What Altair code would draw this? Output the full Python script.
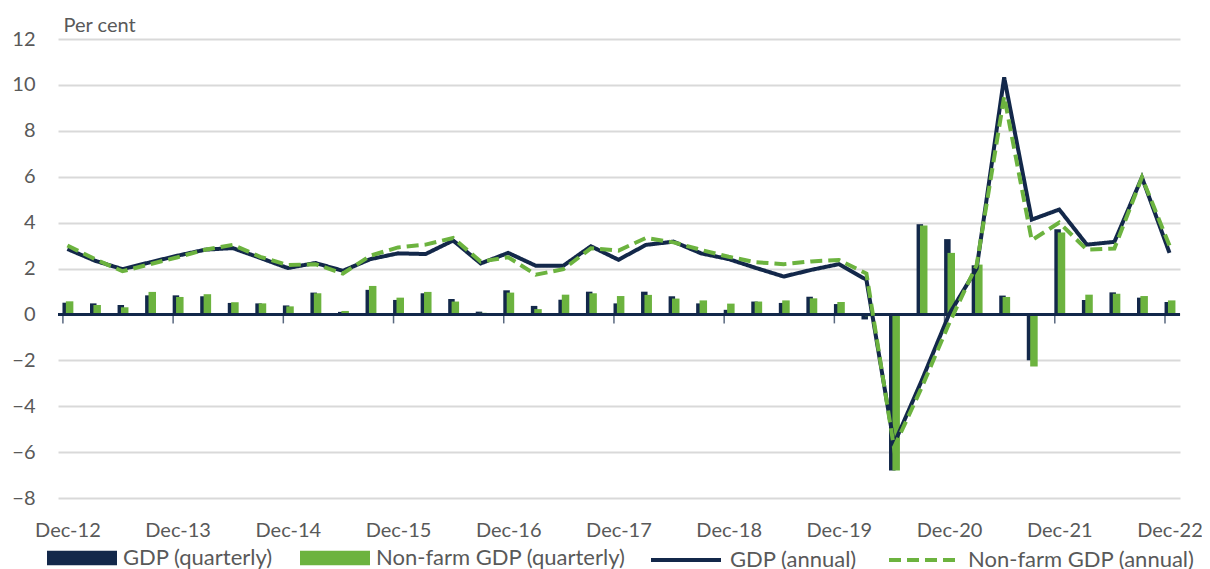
import json
import altair as alt
import pandas as pd

# ---- data ----
quarter_idx = list(range(41))  # Dec-12 ... Dec-22, quarterly
tick_idx = [0, 4, 8, 12, 16, 20, 24, 28, 32, 36, 40]
tick_labels = ["Dec-12", "Dec-13", "Dec-14", "Dec-15", "Dec-16", "Dec-17",
               "Dec-18", "Dec-19", "Dec-20", "Dec-21", "Dec-22"]

gdp_quarterly = [0.51, 0.48, 0.41, 0.83, 0.83, 0.79, 0.50, 0.48, 0.39, 0.95,
                 0.11, 1.07, 0.63, 0.92, 0.67, 0.12, 1.05, 0.37, 0.64, 0.99,
                 0.48, 0.99, 0.79, 0.48, 0.20, 0.56, 0.50, 0.77, 0.45, -0.22,
                 -6.80, 3.93, 3.28, 2.14, 0.82, -2.00, 3.71, 0.63, 0.96, 0.73, 0.54]
nonfarm_quarterly = [0.57, 0.41, 0.31, 0.98, 0.76, 0.88, 0.53, 0.48, 0.35, 0.92,
                     0.15, 1.24, 0.73, 0.98, 0.56, 0.07, 0.95, 0.23, 0.86, 0.92,
                     0.80, 0.85, 0.69, 0.61, 0.47, 0.56, 0.61, 0.70, 0.54, -0.08,
                     -6.80, 3.87, 2.68, 2.17, 0.76, -2.27, 3.57, 0.86, 0.90, 0.80, 0.61]
gdp_annual = [2.85, 2.34, 1.97, 2.27, 2.56, 2.82, 2.89, 2.46, 2.02, 2.24,
              1.90, 2.41, 2.66, 2.63, 3.22, 2.22, 2.68, 2.12, 2.12, 2.97,
              2.38, 3.03, 3.17, 2.66, 2.41, 2.02, 1.65, 1.94, 2.19, 1.51,
              -5.65, -2.90, 0.00, 2.00, 10.33, 4.13, 4.57, 3.04, 3.16, 5.97, 2.68]
nonfarm_annual = [3.00, 2.41, 1.88, 2.19, 2.49, 2.82, 3.03, 2.51, 2.15, 2.19,
                  1.78, 2.56, 2.92, 3.04, 3.33, 2.30, 2.49, 1.73, 1.97, 2.88,
                  2.78, 3.33, 3.14, 2.81, 2.51, 2.27, 2.19, 2.31, 2.37, 1.78,
                  -5.80, -3.20, -0.40, 2.15, 9.50, 3.23, 4.00, 2.82, 2.87, 5.97, 3.00]

bar_names = ["GDP (quarterly)", "Non-farm GDP (quarterly)"]
line_names = ["GDP (annual)", "Non-farm GDP (annual)"]
y_ticks = [-8, -6, -4, -2, 0, 2, 4, 6, 8, 10, 12]

NAVY = "#13284a"
GREEN = "#6cb33f"
GREY_TXT = "#595959"
FONT = "Lato"
FS = 20
LFS = 22

df_gdp_q = pd.DataFrame({"i": quarter_idx, "value": gdp_quarterly, "series": bar_names[0]})
df_nf_q = pd.DataFrame({"i": quarter_idx, "value": nonfarm_quarterly, "series": bar_names[1]})
df_lines = pd.concat([
    pd.DataFrame({"i": quarter_idx, "value": gdp_annual, "series": line_names[0]}),
    pd.DataFrame({"i": quarter_idx, "value": nonfarm_annual, "series": line_names[1]}),
], ignore_index=True)
df_ticks = pd.DataFrame({"i": tick_idx, "label": tick_labels})

label_expr = json.dumps(tick_labels) + "[round(datum.value/4)]"

x_scale = alt.Scale(domain=[-0.16, 40.2], nice=False, zero=False)
y_scale = alt.Scale(domain=[-8, 12], nice=False, zero=False)

x_axis = alt.Axis(values=tick_idx, labelExpr=label_expr, grid=False,
                  domain=False, ticks=False, tickSize=0, labelPadding=22,
                  labelFont=FONT, labelFontSize=FS, labelColor=GREY_TXT,
                  labelFlush=False)
y_axis = alt.Axis(values=y_ticks, grid=True, gridColor="#d9d9d9", gridWidth=2,
                  domain=False, ticks=False, tickSize=0, labelPadding=23,
                  labelFont=FONT, labelFontSize=FS, labelColor=GREY_TXT,
                  titleAngle=0, titleAlign="left",
                  titleBaseline="middle", titleX=5, titleY=-14,
                  titleFont=FONT, titleFontSize=FS, titleFontWeight="normal",
                  titleColor=GREY_TXT)

x_enc = alt.X("i:Q", scale=x_scale, title=None, axis=x_axis)
y_enc = alt.Y("value:Q", scale=y_scale, title="Per cent", axis=y_axis)
y_zero = alt.YDatum(0, type="quantitative", scale=y_scale, title="Per cent", axis=y_axis)

fill_scale = alt.Scale(domain=bar_names, range=[NAVY, GREEN])
bar_legend = alt.Legend(orient="none", legendX=-11, legendY=484, direction="horizontal",
                        title=None, symbolType="M-1,-0.21L1,-0.21L1,0.21L-1,0.21Z",
                        symbolSize=4900, symbolStrokeWidth=0, symbolOpacity=1,
                        labelOffset=6, columnPadding=27, padding=0, labelLimit=0,
                        labelFont=FONT, labelFontSize=LFS, labelColor=GREY_TXT)
line_legend = alt.Legend(orient="none", legendX=591, legendY=484, direction="horizontal",
                         title=None, symbolType="stroke", symbolSize=4900,
                         symbolStrokeWidth=4, labelOffset=7, columnPadding=24, padding=0,
                         labelLimit=0,
                         labelFont=FONT, labelFontSize=LFS, labelColor=GREY_TXT)

bars_gdp = alt.Chart(df_gdp_q).mark_bar(width=6.5, xOffset=-1.7).encode(
    x=x_enc, y=y_enc, y2=alt.Y2Datum(0),
    fill=alt.Fill("series:N", scale=fill_scale, legend=bar_legend),
)
bars_nf = alt.Chart(df_nf_q).mark_bar(width=7.5, xOffset=2.2).encode(
    x=x_enc, y=y_enc, y2=alt.Y2Datum(0),
    fill=alt.Fill("series:N", scale=fill_scale, legend=bar_legend),
)

zero_rule = alt.Chart(df_ticks).mark_rule(color=NAVY, strokeWidth=2).encode(
    y=y_zero,
)
tick_marks = alt.Chart(df_ticks).mark_tick(orient="vertical", size=9, thickness=1.5,
                                            color=NAVY, yOffset=4.5, xOffset=-4.5).encode(
    x=x_enc,
    y=y_zero,
)

lines = alt.Chart(df_lines).mark_line(strokeWidth=4, strokeJoin="miter").encode(
    x=x_enc, y=y_enc,
    stroke=alt.Stroke("series:N", scale=alt.Scale(domain=line_names, range=[NAVY, GREEN]),
                      legend=line_legend),
    strokeDash=alt.StrokeDash("series:N", scale=alt.Scale(domain=line_names,
                                                          range=[[1, 0], [12, 6]]),
                              legend=line_legend),
)

chart = alt.layer(bars_gdp, bars_nf, zero_rule, tick_marks, lines).properties(
    width=1122, height=459,
    autosize=alt.AutoSizeParams(type="none"),
    padding={"left": 50, "top": 31, "right": 22, "bottom": 71},
    background="white",
).configure_view(stroke=None)

chart.save("out.html", embed_options={"renderer": "svg", "actions": False})
